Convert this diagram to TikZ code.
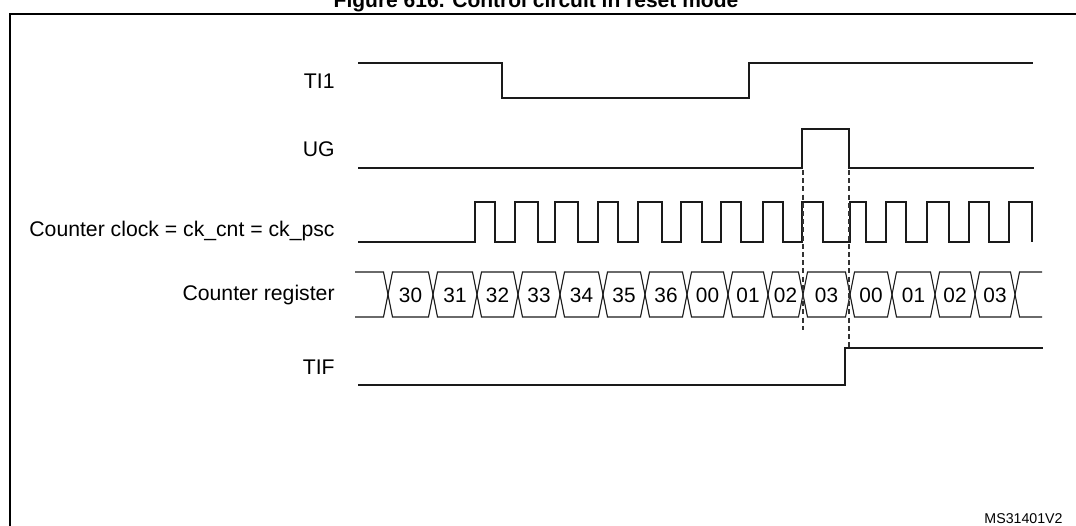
\documentclass[tikz,border=0pt]{standalone}
\usepackage{fontspec}
\setmainfont{Liberation Sans}
\usetikzlibrary{positioning,calc}
\definecolor{sigline}{HTML}{1A1A1A}
\definecolor{guide}{HTML}{333333}

\begin{document}
\begin{tikzpicture}[
  x=0.5pt, y=-0.5pt,
  sig/.style={draw=sigline, line width=0.55pt},
  frame/.style={draw=black, line width=1pt},
  sync/.style={draw=guide, line width=0.55pt, dash pattern=on 2.5pt off 1.6pt},
  lbl/.style={font=\fontsize{10.6}{12.7}\selectfont, anchor=east, inner sep=0pt},
  val/.style={font=\fontsize{10.4}{12.5}\selectfont, inner sep=0pt},
  title/.style={font=\fontsize{10.5}{12.6}\selectfont\bfseries, anchor=base, inner sep=0pt},
  ref/.style={font=\fontsize{7.1}{8.5}\selectfont, anchor=base east, inner sep=0pt},
]
\useasboundingbox (0,0) rectangle (1076,525);

% ================= frame and title =================================
\draw[frame] (1100,14) -- (10,14) -- (10,545);
\node[title] (fig) at (536,7) {Figure 616. Control circuit in reset mode};
\node[ref] (msref) at (1063,523) {MS31401V2};

% ================= signal labels ===================================
\node[lbl] (lti)  at (335,81)  {TI1};
\node[lbl] (lug)  at (335,149) {UG};
\node[lbl] (lclk) at (335,231) {Counter clock = ck\_cnt = ck\_psc};
\node[lbl] (lcnt) at (335,295) {Counter register};
\node[lbl] (ltif) at (335,367) {TIF};

% ================= TI1 and UG ======================================
\draw[sig] (358,63) -- (502,63) -- (502,98) -- (749,98) -- (749,63) -- (1033,63);
\draw[sig] (358,168) -- (802,168) -- (802,129) -- (849,129) -- (849,168) -- (1034,168);

% ================= counter clock (rise/fall edges) =================
\draw[sig] (358,242)
  \foreach \r/\f in {475/495,515/538,555/578,598/618,638/662,681/702,721/741,
                     763/783,802/823,850/866,886/906,927/949,969/989,1009/1032}
  { -- (\r,242) -- (\r,202) -- (\f,202) -- (\f,242) };

% ================= counter register ================================
\def\hw{4.5}
\draw[sig] (355,272) -- ({388-\hw},272) -- (388,294.5) -- ({388-\hw},317) -- (355,317);
\foreach \a/\b/\v in {388/433/30,433/477/31,477/518/32,518/560/33,560/603/34,
                      603/645/35,645/687/36,687/728/00,728/768/01,768/803/02,
                      803/850/03,850/892/00,892/935/01,935/975/02,975/1015/03}
{
  \draw[sig] (\a,294.5) -- ({\a+\hw},272) -- ({\b-\hw},272) -- (\b,294.5)
    -- ({\b-\hw},317) -- ({\a+\hw},317) -- cycle;
  \node[val] (cnt\a) at ({(\a+\b)/2},295) {\v};
}
\draw[sig] (1015,294.5) -- ({1015+\hw},272) -- (1042,272);
\draw[sig] (1015,294.5) -- ({1015+\hw},317) -- (1042,317);

% ================= TIF =============================================
\draw[sig] (358,385) -- (845,385) -- (845,348) -- (1043,348);

% ================= update event guides =============================
\draw[sync] (803,170) -- (803,330);
\draw[sync] (849,170) -- (849,347);

\end{tikzpicture}
\end{document}
